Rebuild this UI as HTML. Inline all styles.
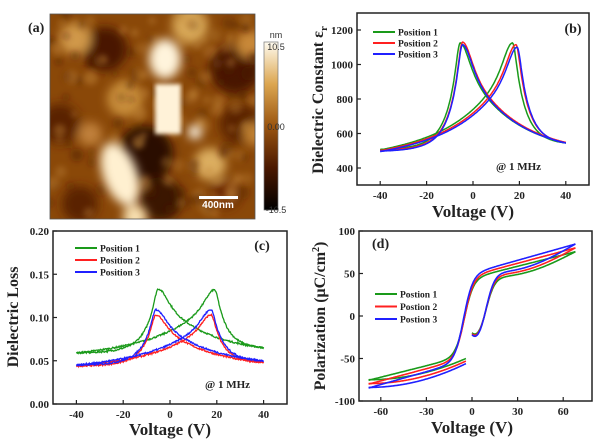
<!DOCTYPE html>
<html><head><meta charset="utf-8"><style>
body{margin:0;background:#fff;}
svg{display:block;font-family:"Liberation Serif",serif;font-weight:bold;}
</style></head><body>
<svg id="s" width="607" height="444" viewBox="0 0 607 444" xmlns="http://www.w3.org/2000/svg">
<defs>
<filter id="bl" x="-20%" y="-20%" width="140%" height="140%"><feGaussianBlur stdDeviation="5"/></filter>
<filter id="bl3" x="-20%" y="-20%" width="140%" height="140%"><feGaussianBlur stdDeviation="3"/></filter>
<filter id="bl2"><feGaussianBlur stdDeviation="2"/></filter>
<clipPath id="ac"><rect x="50" y="14" width="205" height="205"/></clipPath>
<linearGradient id="cb" x1="0" y1="0" x2="0" y2="1">
<stop offset="0" stop-color="#fffbf0"/><stop offset="0.25" stop-color="#dca650"/><stop offset="0.5" stop-color="#9a5510"/><stop offset="0.75" stop-color="#4a1800"/><stop offset="1" stop-color="#000"/></linearGradient>
</defs>
<g clip-path="url(#ac)">
<rect x="50" y="14" width="205" height="205" fill="#8a4808"/>
<g transform="translate(50,14)" filter="url(#bl)">
<circle cx="95" cy="140" r="28" fill="#2a0a00"/>
<circle cx="110" cy="185" r="22" fill="#3a1200"/>
<circle cx="55" cy="35" r="22" fill="#4a1800"/>
<circle cx="185" cy="55" r="25" fill="#4a1800"/>
<circle cx="190" cy="110" r="20" fill="#5a2000"/>
<circle cx="10" cy="110" r="20" fill="#5a2000"/>
<circle cx="30" cy="190" r="18" fill="#5a2000"/>
<circle cx="175" cy="180" r="15" fill="#6a2800"/>
<circle cx="75" cy="85" r="18" fill="#c88d3a"/>
<circle cx="25" cy="25" r="16" fill="#d0984a"/>
<circle cx="140" cy="12" r="18" fill="#d8a858"/>
<circle cx="200" cy="30" r="14" fill="#c88838"/>
<circle cx="160" cy="150" r="16" fill="#dcae60"/>
<circle cx="205" cy="120" r="12" fill="#c08030"/>
<circle cx="40" cy="120" r="12" fill="#c0803a"/>
</g>
<g id="grain" transform="translate(50,14)" filter="url(#bl3)"></g>
<g transform="translate(50,14)" filter="url(#bl)">
<ellipse cx="115" cy="45" rx="16" ry="20" fill="#fff4dc"/>
<ellipse cx="70" cy="160" rx="17" ry="33" fill="#fff0d0" transform="rotate(-20 70 160)"/>
<circle cx="85" cy="203" r="12" fill="#f8e0b0"/>
<circle cx="145" cy="118" r="7" fill="#fff8e8"/>
</g>
<rect x="155" y="84" width="26" height="50" fill="#fff2d8" filter="url(#bl2)"/>
</g>
<rect x="50" y="14" width="205" height="205" fill="none" stroke="#555" stroke-width="0.8"/>
<rect x="199" y="196" width="39" height="3" fill="#fff"/>
<text x="218" y="208" font-family="Liberation Sans,sans-serif" font-size="10" fill="#fff" text-anchor="middle">400nm</text>
<text x="28" y="32" font-size="14" fill="#222">(a)</text>
<rect x="264" y="42" width="14" height="168" fill="url(#cb)" stroke="#777" stroke-width="0.7"/>
<g font-family="Liberation Sans,sans-serif" font-weight="normal" font-size="9" fill="#333" text-anchor="middle">
<text x="276" y="38">nm</text><text x="276" y="50">10.5</text><text x="276" y="130">0.00</text><text x="276" y="213">-10.5</text></g>
<g id="plots"></g>
</svg>
<script>
const NS="http://www.w3.org/2000/svg";const G=document.getElementById('plots');
let seed=7;function rnd(){seed=(seed*16807)%2147483647;return seed/2147483647-0.5;}
{const g=document.getElementById('grain');for(let i=0;i<160;i++){const c=document.createElementNS(NS,'circle');c.setAttribute('cx',(rnd()+0.5)*205);c.setAttribute('cy',(rnd()+0.5)*205);c.setAttribute('r',3+(rnd()+0.5)*4);const t=rnd();c.setAttribute('fill',t>0?'#c58a3c':'#4a1a00');c.setAttribute('opacity',0.25+Math.abs(t)*0.4);g.appendChild(c);}}
function el(t,a,txt){const e=document.createElementNS(NS,t);for(const k in a)e.setAttribute(k,a[k]);if(txt!==undefined)e.textContent=txt;G.appendChild(e);return e;}
function axes(o){
 el('rect',{x:o.x0,y:o.y0,width:o.x1-o.x0,height:o.y1-o.y0,fill:'none',stroke:'#222','stroke-width':1.5});
 o.xt.forEach(v=>{const X=o.X(v);el('line',{x1:X,x2:X,y1:o.y1,y2:o.y1-4,stroke:'#222','stroke-width':1.2});el('text',{x:X,y:o.y1+14,'font-size':11,'text-anchor':'middle',fill:'#222'},o.xl(v));});
 o.yt.forEach(v=>{const Y=o.Y(v);el('line',{x1:o.x0,x2:o.x0+4,y1:Y,y2:Y,stroke:'#222','stroke-width':1.2});el('text',{x:o.x0-4,y:Y+4,'font-size':11,'text-anchor':'end',fill:'#222'},o.yl(v));});
}
function path(pts,c,X,Y,w){el('path',{d:'M'+pts.map(p=>X(p[0]).toFixed(1)+','+Y(p[1]).toFixed(1)).join('L'),fill:'none',stroke:c,'stroke-width':w||1.5});}
function leg(x,y,labels,dy){const cs=['#1a9a1a','#ff2020','#2020ff'];labels.forEach((l,i)=>{el('line',{x1:x,x2:x+22,y1:y+i*dy,y2:y+i*dy,stroke:cs[i],'stroke-width':2});el('text',{x:x+25,y:y+i*dy+3.5,'font-size':9.5,fill:'#222'},l);});}
const cols=['#1a9a1a','#ff2020','#2020ff'];
function lor(d,w){return 1/(1+(d/w)*(d/w));}
function shape(v,p,steepLeft){const d=v-p;const st=steepLeft?d<0:d>0;return 0.5*lor(d,st?2.5:6)+0.5*lor(d,st?7:26);}
function branch(p,steepLeft,h,e0,e1,noise){const s0=shape(-40,p,steepLeft),s1=shape(40,p,steepLeft);const pts=[];
 for(let v=-40;v<=40.01;v+=0.25){const t=(v+40)/80;const sv=shape(v,p,steepLeft);const tail=s0+(s1-s0)*t;const k=(sv-tail)/(1-(s0+(s1-s0)*((p+40)/80)));const base=e0+(e1-e0)*t;
  pts.push([v,base+(h-base)*k+(noise?rnd()*noise:0)]);}return pts;}
// (b)
{const o={x0:357,x1:589,y0:13,y1:185,X:v=>473+v*2.32,Y:v=>168-(v-400)*0.1725,xt:[-40,-20,0,20,40],yt:[400,600,800,1000,1200],xl:v=>v,yl:v=>v};
axes(o);
const P=[[-5.5,17,1125,1125,505,545],[-4.5,18.5,1130,1115,500,548],[-4.5,19,1115,1100,495,545]];
[0,1,2].forEach(i=>{const [pa,pb,ha,hb,e0,e1]=P[i];
 path(branch(pa,true,ha,e0+3,e1),cols[i],o.X,o.Y);path(branch(pb,false,hb,e0,e1),cols[i],o.X,o.Y);});
leg(373,32,['Position 1','Position 2','Position 3'],11);
el('text',{x:573,y:33,'font-size':14,'text-anchor':'middle',fill:'#222'},'(b)');
el('text',{x:496,y:170,'font-size':11,fill:'#222'},'@ 1 MHz');
el('text',{x:473,y:217,'font-size':17,'text-anchor':'middle',fill:'#222'},'Voltage (V)');
const t=el('text',{transform:'translate(323,100) rotate(-90)','font-size':16,'text-anchor':'middle',fill:'#222'},'Dielectric Constant ε');
const ts=document.createElementNS(NS,'tspan');ts.setAttribute('font-size','11');ts.setAttribute('dy','4');ts.textContent='r';t.appendChild(ts);}
// (c)
{const o={x0:53,x1:287,y0:231,y1:404,X:v=>170+v*2.34,Y:v=>404-v*865,xt:[-40,-20,0,20,40],yt:[0,0.05,0.1,0.15,0.2],xl:v=>v,yl:v=>v.toFixed(2)};
axes(o);
const P=[[-5,19,0.133,0.132,0.059,0.065],[-6,17.5,0.103,0.103,0.044,0.048],[-6,17.5,0.109,0.109,0.045,0.050]];
[0,1,2].forEach(i=>{const [pa,pb,ha,hb,b0,b1]=P[i];
 path(branch(pa,true,ha,b0,b1,0.0018),cols[i],o.X,o.Y,1.3);path(branch(pb,false,hb,b0,b1,0.0018),cols[i],o.X,o.Y,1.3);});
leg(75,248,['Position 1','Position 2','Position 3'],12);
el('text',{x:262,y:250,'font-size':14,'text-anchor':'middle',fill:'#222'},'(c)');
el('text',{x:205,y:388,'font-size':11,fill:'#222'},'@ 1 MHz');
el('text',{x:170,y:435,'font-size':17,'text-anchor':'middle',fill:'#222'},'Voltage (V)');
el('text',{transform:'translate(18,317) rotate(-90)','font-size':16,'text-anchor':'middle',fill:'#222'},'Dielectric Loss');}
// (d)
{const o={x0:359,x1:592,y0:231,y1:401,X:v=>472+v*1.52,Y:v=>316-v*0.85,xt:[-60,-30,0,30,60],yt:[-100,-50,0,50,100],xl:v=>v,yl:v=>v};
axes(o);
const S=[1,1.06,1.12];
[0,1,2].forEach(i=>{const s=S[i];const up=[],ll=[],lr=[];const sh=i==2?-0.5:0;
 for(let v=-68;v<=68.01;v+=0.5){up.push([v,s*(45*Math.tanh((v+5-sh)/6)+0.45*v)]);}
 for(let v=-68;v<=-4;v+=0.5){ll.push([v,s*(-75+25*Math.pow((v+68)/64,2))]);}
 for(let v=0;v<=68.01;v+=0.5){lr.push([v,s*(45*Math.tanh((v-9)/6)+0.45*v+21*Math.exp(-v/7)-10*Math.sin(Math.PI*v/68))]);}
 path(up,cols[i],o.X,o.Y,1.6);path(ll,cols[i],o.X,o.Y,1.6);path(lr,cols[i],o.X,o.Y,1.6);});
leg(375,294,['Postion 1','Postion 2','Postion 3'],12.5);
el('text',{x:372,y:248,'font-size':14,fill:'#222'},'(d)');
el('text',{x:472,y:433,'font-size':17,'text-anchor':'middle',fill:'#222'},'Voltage (V)');
const t=el('text',{transform:'translate(325,316) rotate(-90)','font-size':16,'text-anchor':'middle',fill:'#222'},'Polarization (μC/cm');
const a=document.createElementNS(NS,'tspan');a.setAttribute('font-size','10');a.setAttribute('dy','-6');a.textContent='2';t.appendChild(a);
const b=document.createElementNS(NS,'tspan');b.setAttribute('dy','6');b.textContent=')';t.appendChild(b);}
</script>
</body></html>
